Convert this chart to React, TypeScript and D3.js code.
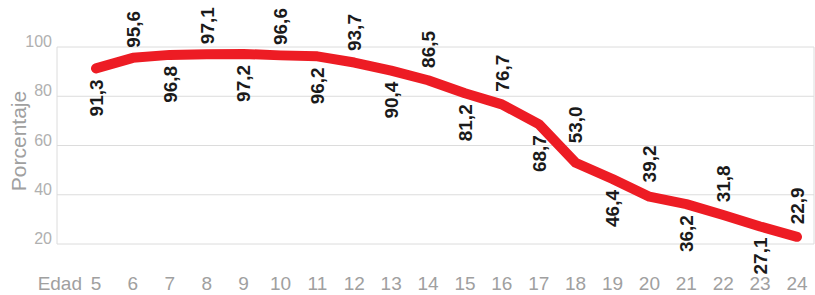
import React, { useEffect, useRef } from 'react'
import * as d3 from 'd3'

const ages: number[] = [5, 6, 7, 8, 9, 10, 11, 12, 13, 14, 15, 16, 17, 18, 19, 20, 21, 22, 23, 24]
const porcentaje: number[] = [91.3, 95.6, 96.8, 97.1, 97.2, 96.6, 96.2, 93.7, 90.4, 86.5, 81.2, 76.7, 68.7, 53.0, 46.4, 39.2, 36.2, 31.8, 27.1, 22.9]
const yTicks: number[] = [20, 40, 60, 80, 100]

const width = 815
const height = 295

function App() {
    const ref = useRef<SVGSVGElement>(null)

    useEffect(() => {
        const svg = d3.select(ref.current)
        svg.selectAll('*').remove()

        const plot = { left: 57, right: 814, top: 47, bottom: 244 }
        const x = d3.scaleLinear().domain([5, 24]).range([96, 797])
        const y = d3.scaleLinear().domain([20, 100]).range([plot.bottom, plot.top])
        const font = '"Liberation Sans", Arial, Helvetica, sans-serif'
        const data = ages.map((a, i) => ({ age: a, val: porcentaje[i], i }))

        // grid
        svg.append('g')
            .selectAll('line')
            .data(yTicks)
            .join('line')
            .attr('x1', plot.left)
            .attr('x2', plot.right)
            .attr('y1', d => y(d))
            .attr('y2', d => y(d))
            .attr('stroke', '#dcdcdc')
            .attr('stroke-width', 1)

        svg.append('line')
            .attr('x1', plot.left).attr('x2', plot.left)
            .attr('y1', y(100)).attr('y2', y(20))
            .attr('stroke', '#dcdcdc')
        svg.append('line')
            .attr('x1', plot.right).attr('x2', plot.right)
            .attr('y1', y(100)).attr('y2', y(20))
            .attr('stroke', '#dcdcdc')

        // y tick labels
        svg.append('g')
            .selectAll('text')
            .data(yTicks)
            .join('text')
            .attr('x', 52)
            .attr('y', d => y(d))
            .attr('text-anchor', 'end')
            .attr('font-family', font)
            .attr('font-size', 16)
            .attr('fill', '#b0b0b0')
            .text(d => String(d))

        svg.append('text')
            .attr('transform', `translate(26,141) rotate(-90)`)
            .attr('text-anchor', 'middle')
            .attr('font-family', font)
            .attr('font-size', 21)
            .attr('fill', '#a0a0a0')
            .text('Porcentaje')

        // x labels
        svg.append('text')
            .attr('x', 82)
            .attr('y', 290)
            .attr('text-anchor', 'end')
            .attr('font-family', font)
            .attr('font-size', 19)
            .attr('fill', '#a0a0a0')
            .text('Edad')

        svg.append('g')
            .selectAll('text')
            .data(ages)
            .join('text')
            .attr('x', d => x(d))
            .attr('y', 290)
            .attr('text-anchor', 'middle')
            .attr('font-family', font)
            .attr('font-size', 19)
            .attr('fill', '#a0a0a0')
            .text(d => String(d))

        // line
        const line = d3.line<{ age: number, val: number }>()
            .x(d => x(d.age))
            .y(d => y(d.val))

        svg.append('path')
            .datum(data)
            .attr('d', line)
            .attr('fill', 'none')
            .attr('stroke', '#ed1c24')
            .attr('stroke-width', 10)
            .attr('stroke-linecap', 'round')
            .attr('stroke-linejoin', 'round')

        // top of the line a few px left of a point (labels above must clear steep segments)
        const lineTop = (i: number) => {
            const px = x(ages[i]) - 9
            let yy = y(porcentaje[i])
            if (i > 0) {
                const x0 = x(ages[i - 1]), x1 = x(ages[i])
                const t = (px - x0) / (x1 - x0)
                yy = Math.min(yy, y(porcentaje[i - 1]) + t * (y(porcentaje[i]) - y(porcentaje[i - 1])))
            }
            return yy
        }

        // value labels, alternating below / above
        svg.append('g')
            .selectAll('text')
            .data(data)
            .join('text')
            .attr('transform', d => {
                const below = d.i % 2 === 0
                const yy = below ? y(d.val) + 11 : lineTop(d.i) - 10
                return `translate(${x(d.age)},${yy}) rotate(-90)`
            })
            .attr('dy', '0.36em')
            .attr('text-anchor', d => d.i % 2 === 0 ? 'end' : 'start')
            .attr('font-family', font)
            .attr('font-size', 19)
            .attr('font-weight', 'bold')
            .attr('fill', '#1a1a1a')
            .text(d => d.val.toFixed(1).replace('.', ','))
    }, [])

    return (
        <svg ref={ref} width={width} height={height}
            style={{ position: 'absolute', left: 0, top: 0, background: '#fff' }} />
    )
}

export default App
